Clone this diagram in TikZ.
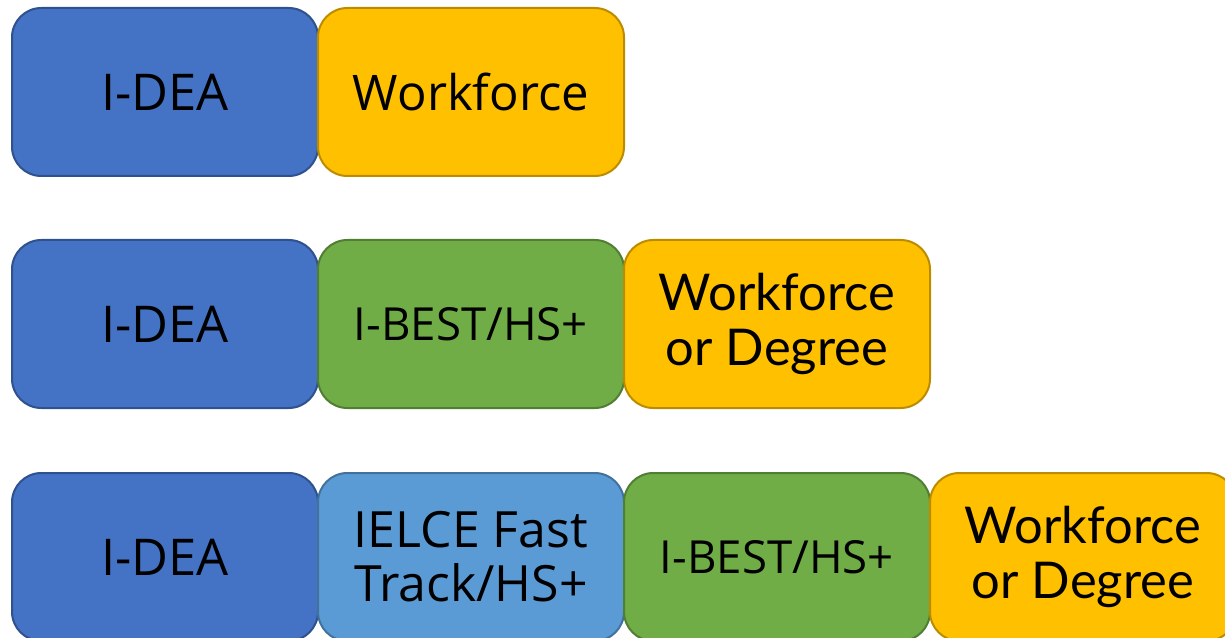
\documentclass[tikz,border=0pt]{standalone}
\usepackage{fontspec}
\setmainfont{Open Sans}
\newfontfamily\latofont{Lato}
\usetikzlibrary{positioning}
\definecolor{ideablue}{HTML}{4472C4}
\definecolor{ideablueline}{HTML}{2F528F}
\definecolor{fastblue}{HTML}{5B9BD5}
\definecolor{fastblueline}{HTML}{41719C}
\definecolor{bestgreen}{HTML}{70AD47}
\definecolor{bestgreenline}{HTML}{507E32}
\definecolor{workgold}{HTML}{FFC000}
\definecolor{workgoldline}{HTML}{BC8C00}
\tikzset{
  stage/.style={rounded corners=22pt, line width=1.5pt, minimum width=229.5pt,
    minimum height=126pt, inner sep=0pt, outer sep=0pt, align=center},
  idea/.style={stage, fill=ideablue, draw=ideablueline, font=\fontsize{38}{44}\selectfont},
  fast/.style={stage, fill=fastblue, draw=fastblueline, font=\fontsize{37.5}{40.5}\selectfont},
  best/.style={stage, fill=bestgreen, draw=bestgreenline, font=\fontsize{34.2}{38}\selectfont},
  work/.style={stage, fill=workgold, draw=workgoldline, font=\fontsize{36.8}{40}\selectfont},
  workdeg/.style={work, font=\latofont\fontsize{38}{41.5}\selectfont}
}
\begin{document}
\begin{tikzpicture}[x=0.75pt,y=-0.75pt]
  \clip (0,0) rectangle (1225,638);
  \node[idea] (ideaA) at (165,92) {I-DEA};
  \node[work, right=0pt of ideaA] (workA) {Workforce};

  \node[idea] (ideaB) at (165,324) {I-DEA};
  \node[best, right=0pt of ideaB] (bestB) {I-BEST/HS+};
  \node[workdeg, right=0pt of bestB] (workB) {Workforce\\or Degree};

  \node[idea] (ideaC) at (165,557) {I-DEA};
  \node[fast, right=0pt of ideaC] (fastC) {IELCE Fast\\Track/HS+};
  \node[best, right=0pt of fastC] (bestC) {I-BEST/HS+};
  \node[workdeg, right=0pt of bestC] (workC) {Workforce\\or Degree};
\end{tikzpicture}
\end{document}
